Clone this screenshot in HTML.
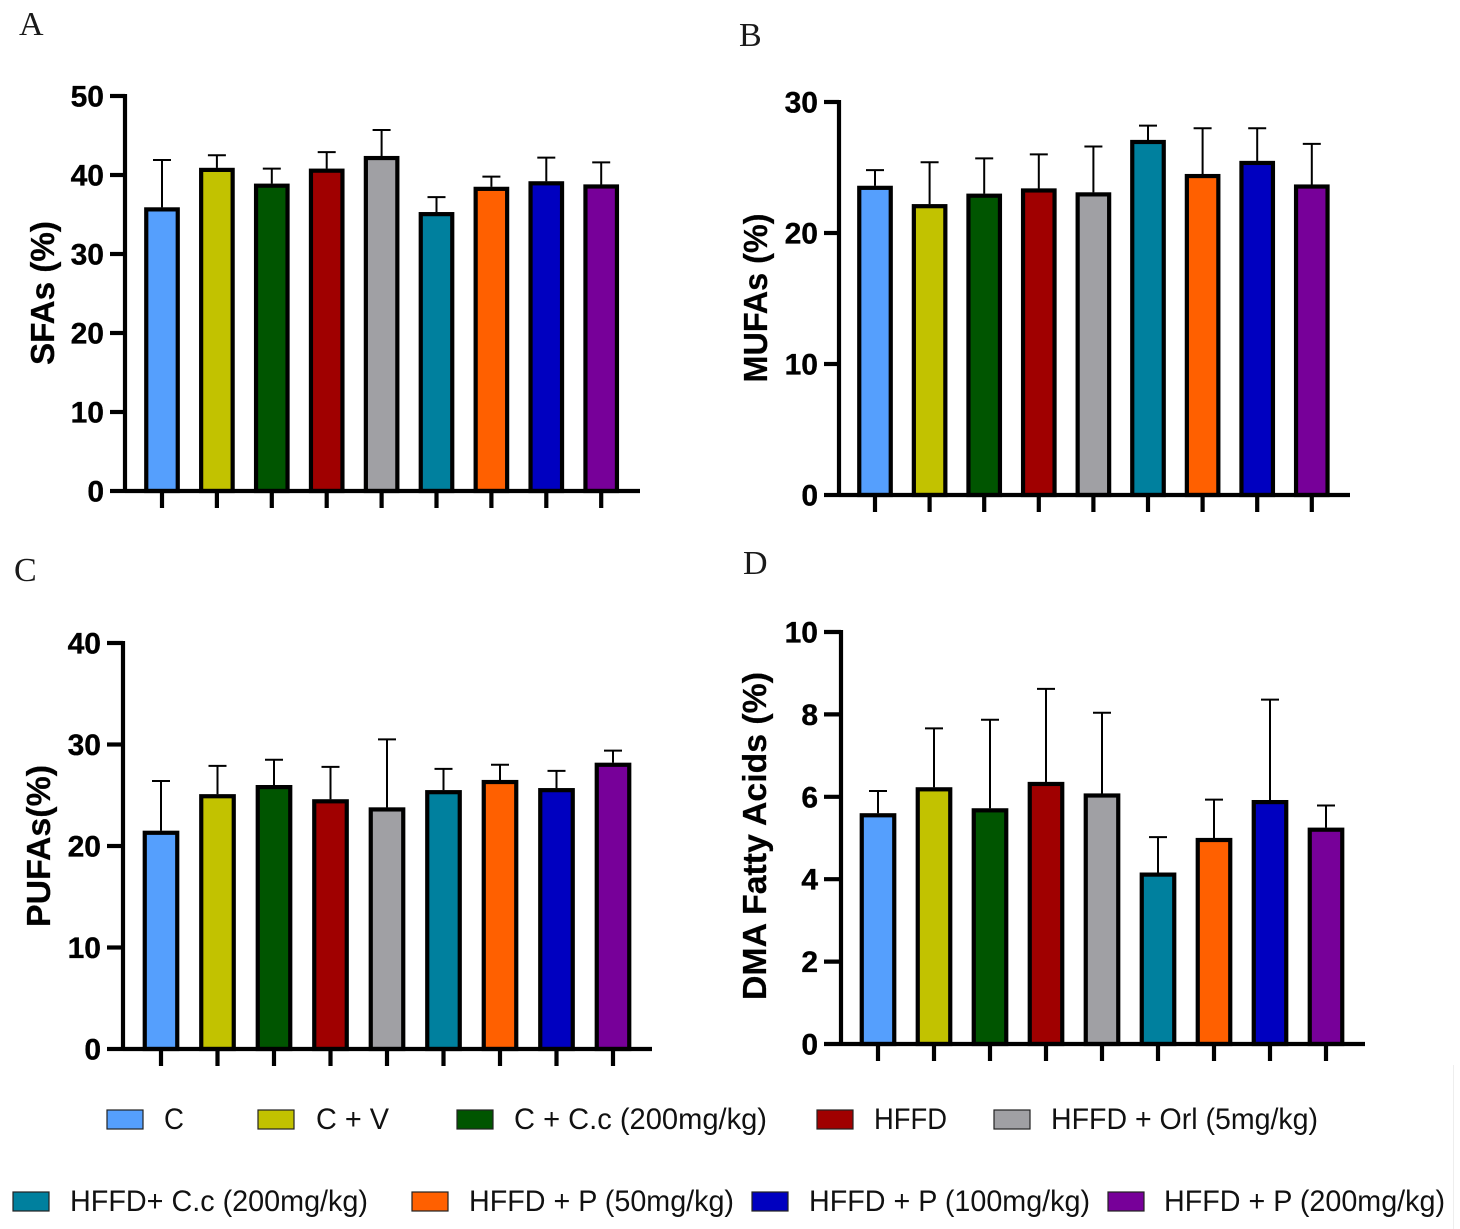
<!DOCTYPE html>
<html lang="en">
<head>
<meta charset="utf-8">
<title>Fatty acid composition by treatment group</title>
<style>
html,body{margin:0;padding:0;background:#fff;width:1460px;height:1229px;overflow:hidden}
svg{display:block;position:absolute;left:0;top:0}
text{font-family:"Liberation Sans",sans-serif;fill:#000}
.tick{font-weight:700;font-size:30px;stroke:#000;stroke-width:.35px}
.title{font-weight:700;font-size:33.5px;stroke:#000;stroke-width:.25px}
.panel{font-family:"Liberation Serif",serif;font-size:34px;fill:#1a1a1a}
.leg{font-size:30px;fill:#111}
</style>
</head>
<body>
<svg id="fig" width="1460" height="1229" viewBox="0 0 1460 1229" xmlns="http://www.w3.org/2000/svg">
  <rect x="0" y="0" width="1460" height="1229" fill="#fff"/>
  <line x1="1453.5" y1="1065" x2="1453.5" y2="1229" stroke="#eeeeee" stroke-width="1"/>
  <text class="panel" x="19" y="35">A</text>
  <text class="panel" x="739" y="46">B</text>
  <text class="panel" x="14" y="581">C</text>
  <text class="panel" x="743" y="574">D</text>
  <g id="charts"></g>
  <g id="legend"></g>
</svg>
<script>
// Categories and colours
var groups = ["C","C + V","C + C.c (200mg/kg)","HFFD","HFFD + Orl (5mg/kg)","HFFD+ C.c (200mg/kg)","HFFD + P (50mg/kg)","HFFD + P (100mg/kg)","HFFD + P (200mg/kg)"];
var colors = ["#559ffd","#c2c200","#005500","#a00000","#a0a0a4","#00809e","#ff6000","#0000c0","#770099"];

// Panel A: SFAs
var sfaMeans = [35.9,40.9,38.9,40.8,42.4,35.3,38.5,39.2,38.8];
var sfaUpper = [41.9,42.5,40.8,42.9,45.7,37.2,39.8,42.2,41.6];
var sfaTicks = [0,10,20,30,40,50];

// Panel B: MUFAs
var mufaMeans = [23.6,22.2,23.0,23.4,23.1,27.1,24.5,25.5,23.7];
var mufaUpper = [24.8,25.4,25.7,26.0,26.6,28.2,28.0,28.0,26.8];
var mufaTicks = [0,10,20,30];

// Panel C: PUFAs
var pufaMeans = [21.5,25.1,26.0,24.6,23.8,25.5,26.5,25.7,28.2];
var pufaUpper = [26.4,27.9,28.5,27.8,30.5,27.6,28.0,27.4,29.4];
var pufaTicks = [0,10,20,30,40];

// Panel D: DMA fatty acids
var dmaMeans = [5.6,6.23,5.72,6.36,6.08,4.16,5.0,5.92,5.25];
var dmaUpper = [6.14,7.66,7.87,8.62,8.04,5.02,5.93,8.36,5.79];
var dmaTicks = [0,2,4,6,8,10];

var NS = "http://www.w3.org/2000/svg";
var SW = 4.2;
function mk(parent, tag, attrs, txt){
  var e = document.createElementNS(NS, tag);
  for (var k in attrs) e.setAttribute(k, attrs[k]);
  if (txt !== undefined) e.textContent = txt;
  parent.appendChild(e);
  return e;
}

function drawPanel(cfg, means, upper, ticks){
  var root = document.getElementById("charts");
  var g = mk(root, "g", {});
  
  
  var maxTick = ticks[ticks.length - 1];
  function yScale(v){ return cfg.y0 - (v / maxTick) * (cfg.y0 - cfg.yTop); }
  function xScale(i){ return cfg.x0 + i * cfg.step; }

  means.forEach(function(v, i){
    var cx = xScale(i);
    var topY = yScale(v);
    var upY = yScale(upper[i]);
    var eb = mk(g, "line", {x1:cx, x2:cx, y1:topY, y2:upY, stroke:"#000", "stroke-width":2});
    
    
    var cap = mk(g, "line", {x1:cx-9, x2:cx+9, y1:upY, y2:upY, stroke:"#000", "stroke-width":2});
    
    
    var bar = mk(g, "rect", {x:cx-cfg.bw/2, y:topY+2, width:cfg.bw, height:cfg.y0-topY-2, fill:colors[i], stroke:"#000", "stroke-width":SW});
    
    
    var xt = mk(g, "line", {x1:cx, x2:cx, y1:cfg.y0, y2:cfg.y0+17, stroke:"#000", "stroke-width":SW});
    
    
  });

  var ya = mk(g, "line", {x1:cfg.ax, x2:cfg.ax, y1:cfg.yTop-2, y2:cfg.y0+2, stroke:"#000", "stroke-width":SW});
  
  
  var xa = mk(g, "line", {x1:cfg.ax, x2:cfg.xEnd, y1:cfg.y0, y2:cfg.y0, stroke:"#000", "stroke-width":SW});
  
  

  ticks.forEach(function(t){
    var y = yScale(t);
    var tl = mk(g, "line", {x1:cfg.ax-cfg.tl, x2:cfg.ax, y1:y, y2:y, stroke:"#000", "stroke-width":SW});
    
    
    var lb = mk(g, "text", {"class":"tick", x:cfg.ax-cfg.tl-6, y:y+10.5, "text-anchor":"end"}, String(t));
    
    
  });

  var title = mk(g, "text", {"class":"title", "text-anchor":"middle", textLength:cfg.tw, lengthAdjust:"spacingAndGlyphs", transform:"translate("+cfg.tx+","+cfg.ty+") rotate(-90)"}, cfg.title);
  
  
}

drawPanel({name:"sfa", title:"SFAs (%)", ax:125, xEnd:640, tl:15, y0:491, yTop:96, x0:162, step:54.9, bw:31.5, tx:54, ty:293, tw:144}, sfaMeans, sfaUpper, sfaTicks);
drawPanel({name:"mufa", title:"MUFAs (%)", ax:839, xEnd:1350, tl:15, y0:495, yTop:102, x0:875, step:54.6, bw:31.5, tx:767, ty:298, tw:169}, mufaMeans, mufaUpper, mufaTicks);
drawPanel({name:"pufa", title:"PUFAs(%)", ax:123, xEnd:652, tl:16, y0:1049, yTop:643, x0:161, step:56.5, bw:32.5, tx:50, ty:846, tw:162}, pufaMeans, pufaUpper, pufaTicks);
drawPanel({name:"dma", title:"DMA Fatty Acids (%)", ax:841, xEnd:1365, tl:17, y0:1044, yTop:632, x0:878, step:56, bw:32.5, tx:766, ty:836, tw:328}, dmaMeans, dmaUpper, dmaTicks);

// Legend layout
var legendBoxX = [107,258,457,817,994,13,412,752,1108];
var legendTextX = [164,316,514,874,1051,70,469,809,1164];
var legendTextW = [20,73,253,73,267,298,265,281,281];
(function(){
  var root = document.getElementById("legend");
  groups.forEach(function(name, i){
    var row = i < 5 ? 0 : 1;
    var top = row === 0 ? 1110 : 1192;
    var entry = mk(root, "g", {});
    
    
    var sw = mk(entry, "rect", {x:legendBoxX[i], y:top, width:36, height:19, fill:colors[i], stroke:"#222", "stroke-width":1.2});
    
    
    var tx = mk(entry, "text", {"class":"leg", x:legendTextX[i], y:top+19, textLength:legendTextW[i], lengthAdjust:"spacingAndGlyphs"}, name);
    
    
  });
})();
</script>
</body>
</html>
